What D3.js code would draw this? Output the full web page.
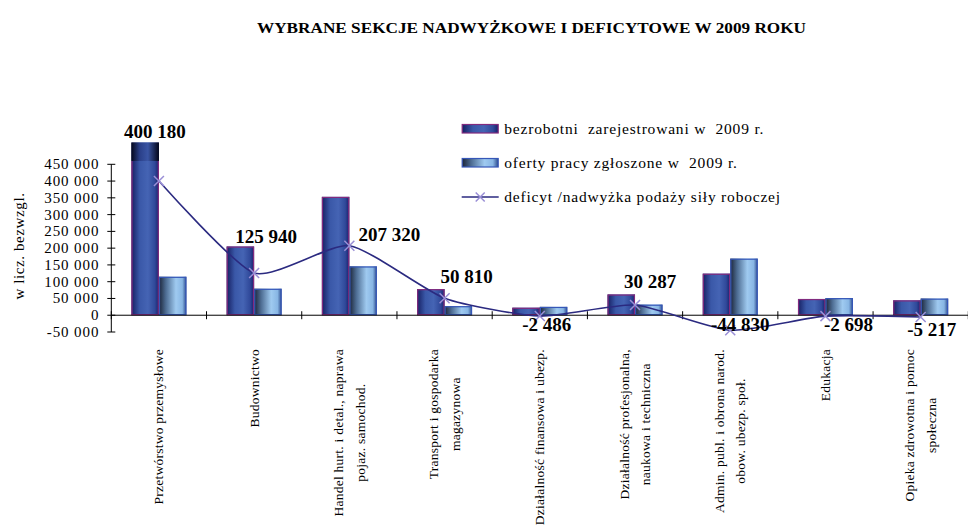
<!DOCTYPE html>
<html>
<head>
<meta charset="utf-8">
<script src="https://cdn.jsdelivr.net/npm/d3@7"></script>
<style>
    body { margin: 0; background: #fff; }
    svg { display: block; font-family: 'Liberation Serif', 'Times New Roman', serif; }
    text { white-space: pre; }
</style>
</head>
<body>
<svg id="chart" width="968" height="526"></svg>
<script>
const categories = [
    'Przetwórstwo przemysłowe',
    'Budownictwo',
    'Handel hurt. i detal., naprawa\npojaz. samochod.',
    'Transport i gospodarka\nmagazynowa',
    'Działalność finansowa i ubezp.',
    'Działalność profesjonalna,\nnaukowa i techniczna',
    'Admin. publ. i obrona narod.\nobow. ubezp. społ.',
    'Edukacja',
    'Opieka zdrowotna i pomoc\nspołeczna'
];
const unemployed = [515000, 205000, 353000, 78000, 22500, 62000, 124000, 48500, 44500];
const offers = [114820, 79060, 145680, 27190, 24986, 31713, 168830, 51198, 49717];
const deficit = [400180, 125940, 207320, 50810, -2486, 30287, -44830, -2698, -5217];
const yTicks = [-50000, 0, 50000, 100000, 150000, 200000, 250000, 300000, 350000, 400000, 450000];
const seriesNames = [
    'bezrobotni  zarejestrowani w  2009 r.',
    'oferty pracy zgłoszone w  2009 r.',
    'deficyt /nadwyżka podaży siły roboczej'
];
// hand-placed label shifts relative to each point [dx, dy]
const labelShift = [[-4, -43], [12, -30], [40, -5], [22, -15], [7, 15], [15, -17], [10, 1], [23, 15], [11, 19]];

const svg = d3.select('#chart');
const fmt = d3.formatLocale({ decimal: ',', thousands: ' ', grouping: [3], currency: ['', ''], minus: '-' }).format(',');

const x0 = d3.scaleBand().domain(d3.range(categories.length)).range([111.3, 968.3]).padding(0);
const x1 = d3.scaleBand().domain([0, 1]).range([0, x0.bandwidth()]).paddingInner(0).paddingOuter(0.731);
const y = d3.scaleLinear().domain([-50000, 450000]).range([332, 164.3]);
const plotTop = y(460000);
const cx = i => x0(i) + x0.bandwidth() / 2;

// gradients
const defs = svg.append('defs');
function grad(id, stops) {
    const g = defs.append('linearGradient').attr('id', id).attr('x1', 0).attr('x2', 1).attr('y1', 0).attr('y2', 0);
    stops.forEach(s => g.append('stop').attr('offset', s[0]).attr('stop-color', s[1]));
}
grad('gU', [[0, '#161f62'], [0.3, '#3a58a8'], [0.6, '#4564b4'], [0.85, '#30499a'], [1, '#17206a']]);
grad('gO', [[0, '#1b2436'], [0.25, '#4d6c92'], [0.62, '#9fcaf0'], [0.85, '#88b6e4'], [1, '#2c4a8a']]);
grad('gTop', [[0, '#05081c'], [0.3, '#2a3f88'], [0.6, '#3a55a4'], [1, '#03061a']]);
defs.append('clipPath').attr('id', 'plotClip')
    .append('rect').attr('x', 0).attr('y', plotTop).attr('width', 968).attr('height', 526 - plotTop);

// title
svg.append('text')
    .attr('x', 531.5).attr('y', 33)
    .attr('text-anchor', 'middle')
    .attr('font-size', 15).attr('font-weight', 'bold')
    .attr('textLength', 549).attr('lengthAdjust', 'spacingAndGlyphs')
    .text('WYBRANE SEKCJE NADWYŻKOWE I DEFICYTOWE W 2009 ROKU');

// bars
const series = [
    { values: unemployed, fill: 'url(#gU)', stroke: '#822a7e' },
    { values: offers, fill: 'url(#gO)', stroke: '#3657b8' }
];
series.forEach((s, si) => {
    const g = svg.append('g');
    const bx = i => x0(i) + x1(si);
    const by = v => y(Math.max(0, v));
    const bh = v => Math.abs(y(v) - y(0));
    g.selectAll('rect.fill')
        .data(s.values)
        .join('rect')
        .attr('class', 'fill')
        .attr('x', (d, i) => bx(i)).attr('y', by)
        .attr('width', x1.bandwidth()).attr('height', bh)
        .attr('fill', s.fill);
    // part over the plot area is drawn darker and without border
    g.selectAll('rect.over')
        .data(s.values.map((v, i) => ({ v, i })).filter(d => y(d.v) < plotTop))
        .join('rect')
        .attr('class', 'over')
        .attr('x', d => bx(d.i)).attr('y', d => y(d.v))
        .attr('width', x1.bandwidth()).attr('height', d => plotTop - y(d.v))
        .attr('fill', 'url(#gTop)');
    g.append('g').attr('clip-path', 'url(#plotClip)')
        .selectAll('rect')
        .data(s.values)
        .join('rect')
        .attr('x', (d, i) => bx(i) + 0.6).attr('y', d => by(d) + 0.6)
        .attr('width', x1.bandwidth() - 1.2).attr('height', d => Math.max(0, bh(d) - 1.2))
        .attr('fill', 'none')
        .attr('stroke', s.stroke).attr('stroke-width', 1.2);
});

// axes
const yAxis = svg.append('g').attr('transform', 'translate(111.3,0)');
yAxis.append('line').attr('x1', 0).attr('x2', 0).attr('y1', y(-50000)).attr('y2', y(450000))
    .attr('stroke', '#000').attr('stroke-width', 1);
yAxis.selectAll('line.tick').data(yTicks).join('line').attr('class', 'tick')
    .attr('x1', -4).attr('x2', 4).attr('y1', d => y(d)).attr('y2', d => y(d))
    .attr('stroke', '#000');
yAxis.selectAll('text').data(yTicks).join('text')
    .attr('x', -12).attr('y', d => y(d) + 5)
    .attr('text-anchor', 'end').attr('font-size', 15).attr('letter-spacing', 0.9)
    .text(d => fmt(d));

svg.append('text')
    .attr('transform', 'translate(24,246) rotate(-90)')
    .attr('text-anchor', 'middle').attr('font-size', 15).attr('letter-spacing', 0.6)
    .text('w licz. bezwzgl.');

const xAxis = svg.append('g');
xAxis.append('line').attr('x1', x0.range()[0]).attr('x2', x0.range()[1]).attr('y1', y(0)).attr('y2', y(0))
    .attr('stroke', '#000');
xAxis.selectAll('line.tick').data(d3.range(categories.length + 1)).join('line').attr('class', 'tick')
    .attr('x1', i => x0.range()[0] + i * x0.step()).attr('x2', i => x0.range()[0] + i * x0.step())
    .attr('y1', y(0) - 4).attr('y2', y(0) + 4)
    .attr('stroke', '#000');

// category labels, rotated
const fs = 13.5;
categories.forEach((c, i) => {
    const lines = c.split('\n');
    const t = svg.append('text')
        .attr('transform', `translate(${cx(i)},349) rotate(-90)`)
        .attr('text-anchor', 'middle').attr('font-size', fs).attr('letter-spacing', 0.25);
    const spans = lines.map((l, li) => t.append('tspan')
        .attr('y', (li - (lines.length - 1) / 2) * 21.5 + fs * 0.33)
        .text(l));
    const maxLen = d3.max(spans, s => s.node().getComputedTextLength());
    spans.forEach(s => s.attr('x', -maxLen / 2));
});

// deficit line
const line = d3.line().x((d, i) => cx(i)).y(d => y(d)).curve(d3.curveCardinal.tension(0.4));
svg.append('path').datum(deficit).attr('d', line)
    .attr('fill', 'none').attr('stroke', '#2b2a80').attr('stroke-width', 1.6);

function cross(sel, r) {
    sel.append('path')
        .attr('d', `M${-r},${-r}L${r},${r}M${-r},${r}L${r},${-r}`)
        .attr('stroke', '#9a8fd6').attr('stroke-width', 1.5).attr('fill', 'none');
}
svg.selectAll('g.mark').data(deficit).join('g').attr('class', 'mark')
    .attr('transform', (d, i) => `translate(${cx(i)},${y(d)})`)
    .call(cross, 5);

// data labels
svg.selectAll('text.lbl').data(deficit).join('text').attr('class', 'lbl')
    .attr('x', (d, i) => cx(i) + labelShift[i][0])
    .attr('y', (d, i) => y(d) + labelShift[i][1])
    .attr('text-anchor', 'middle').attr('font-size', 19).attr('font-weight', 'bold')
    .text(d => fmt(d));

// legend
const legend = svg.append('g').attr('transform', 'translate(461.7,0)');
const rowY = [128.5, 162.5, 197];
legend.append('rect').attr('x', 0.5).attr('y', rowY[0] - 4).attr('width', 36).attr('height', 8.5)
    .attr('fill', 'url(#gU)').attr('stroke', '#822a7e').attr('stroke-width', 1.2);
legend.append('rect').attr('x', 0.5).attr('y', rowY[1] - 4).attr('width', 36).attr('height', 8.5)
    .attr('fill', 'url(#gO)').attr('stroke', '#3657b8').attr('stroke-width', 1.2);
legend.append('line').attr('x1', 0).attr('x2', 37).attr('y1', rowY[2]).attr('y2', rowY[2])
    .attr('stroke', '#2b2a80').attr('stroke-width', 1.6);
legend.append('g').attr('transform', `translate(18.5,${rowY[2]})`).call(cross, 4.5);
legend.selectAll('text').data(seriesNames).join('text')
    .attr('x', 42.6).attr('y', (d, i) => rowY[i] + 5)
    .attr('font-size', 15.5).attr('letter-spacing', 0.8)
    .text(d => d);
</script>
</body>
</html>
